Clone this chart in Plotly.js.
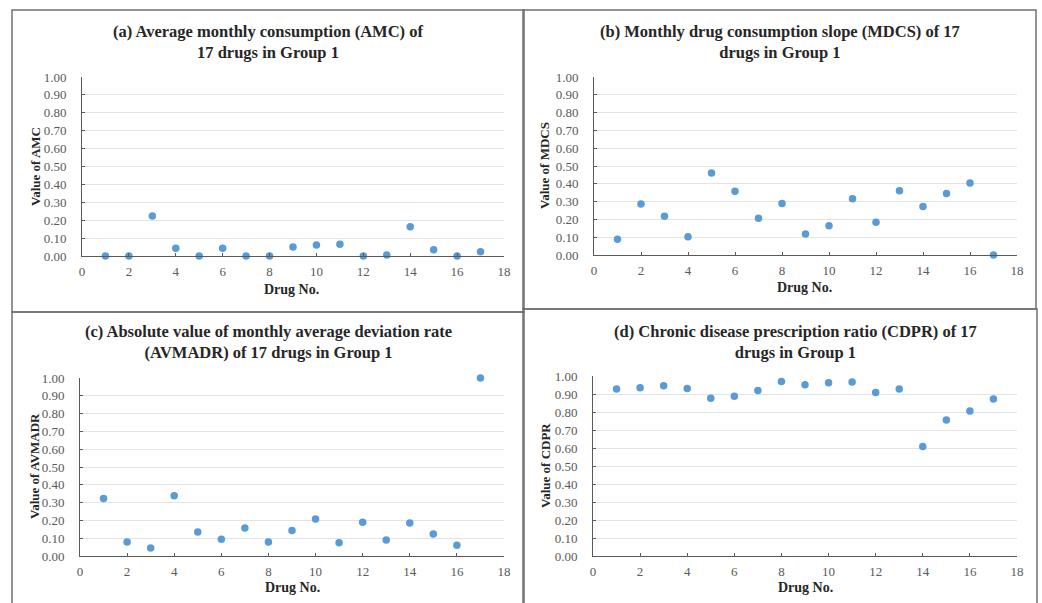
<!DOCTYPE html>
<html>
<head>
<meta charset="utf-8">
<script src="https://cdn.plot.ly/plotly-3.0.1.min.js"></script>
<style>html,body{margin:0;padding:0;background:#fff;}#chart{width:1042px;height:603px;}</style>
</head>
<body>
<div id="chart"></div>
<script>
// Data
const drugNo = [1,2,3,4,5,6,7,8,9,10,11,12,13,14,15,16,17];
const amc    = [0.00,0.00,0.223,0.043,0.00,0.043,0.00,0.00,0.050,0.061,0.065,0.00,0.006,0.164,0.035,0.00,0.024];
const mdcs   = [0.088,0.287,0.217,0.103,0.461,0.358,0.206,0.290,0.118,0.165,0.316,0.184,0.361,0.272,0.346,0.404,0.00];
const avmadr = [0.323,0.079,0.045,0.338,0.135,0.094,0.158,0.079,0.143,0.208,0.075,0.190,0.090,0.186,0.124,0.060,1.00];
const cdpr   = [0.928,0.935,0.946,0.931,0.876,0.887,0.920,0.970,0.952,0.963,0.967,0.909,0.928,0.609,0.755,0.805,0.872];

const panelTitles = [
  "(a) Average monthly consumption (AMC) of<br>17 drugs in Group 1",
  "(b) Monthly drug consumption slope (MDCS) of 17<br>drugs in Group 1",
  "(c) Absolute value of monthly average deviation rate<br>(AVMADR) of 17 drugs in Group 1",
  "(d) Chronic disease prescription ratio (CDPR) of 17<br>drugs in Group 1"
];
const yTitles = ["Value of AMC","Value of MDCS","Value of AVMADR","Value of CDPR"];
const xTitle = "Drug No.";
const series = [amc, mdcs, avmadr, cdpr];

const W = 1042, H = 603;
const px = x => x / W;
const py = y => (H - y) / H;

// plot area boxes in pixels: [left, right, top, bottom]
const boxes = [
  [82, 504, 77, 256],
  [594, 1017, 77, 255],
  [80, 504, 378, 556],
  [593, 1017, 376, 556]
];
const titlePos = [[268, 42], [780, 42], [268, 342], [795, 342]];
const xTitlePos = [[291, 289], [804, 287], [292, 587], [805, 587]];
const yTitlePos = [[36, 167], [545, 166], [34, 466], [545, 466]];
const frames = [[12, 524, 10, 312], [523, 1036, 10, 309], [12, 524, 312, 606], [523, 1037, 309, 606]];

const serif = '"Liberation Serif", "Times New Roman", serif';
const traces = [];
const layout = {
  width: W, height: H,
  margin: {l: 0, r: 0, t: 0, b: 0},
  paper_bgcolor: "#fff", plot_bgcolor: "#fff",
  showlegend: false,
  font: {family: serif, size: 12, color: "#595959"},
  annotations: [], shapes: []
};

series.forEach((vals, i) => {
  const n = i === 0 ? "" : String(i + 1);
  traces.push({
    x: drugNo, y: vals, type: "scatter", mode: "markers",
    xaxis: "x" + n, yaxis: "y" + n, cliponaxis: false,
    marker: {color: "#5B9BD5", size: 7.5},
    hoverinfo: "x+y"
  });
  const b = boxes[i];
  layout["xaxis" + n] = {
    domain: [px(b[0]), px(b[1])], anchor: "y" + n,
    range: [0, 18], tickmode: "linear", tick0: 0, dtick: 2,
    showgrid: false, zeroline: false,
    showline: true, linecolor: "#595959", linewidth: 1,
    ticks: "inside", ticklen: 3, tickcolor: "#595959",
    ticklabelstandoff: 3,
    tickfont: {family: serif, size: 13, color: "#595959"}, fixedrange: true
  };
  layout["yaxis" + n] = {
    domain: [py(b[3]), py(b[2])], anchor: "x" + n,
    range: [0, 1], tickmode: "linear", tick0: 0, dtick: 0.1, tickformat: ".2f",
    showgrid: true, gridcolor: "#e3e3e3", gridwidth: 1, zeroline: false,
    showline: true, linecolor: "#595959", linewidth: 1,
    ticks: "inside", ticklen: 3, tickcolor: "#595959",
    ticklabelstandoff: 12,
    tickfont: {family: serif, size: 13, color: "#595959"}, fixedrange: true
  };
  layout.annotations.push({
    xref: "paper", yref: "paper", x: px(titlePos[i][0]), y: py(titlePos[i][1]),
    xanchor: "center", yanchor: "middle", showarrow: false,
    text: "<b>" + panelTitles[i] + "</b>",
    font: {family: serif, size: 16.5, color: "#262626"}
  });
  layout.annotations.push({
    xref: "paper", yref: "paper", x: px(xTitlePos[i][0]), y: py(xTitlePos[i][1]),
    xanchor: "center", yanchor: "middle", showarrow: false,
    text: "<b>" + xTitle + "</b>",
    font: {family: serif, size: 14, color: "#262626"}
  });
  layout.annotations.push({
    xref: "paper", yref: "paper", x: px(yTitlePos[i][0]), y: py(yTitlePos[i][1]),
    xanchor: "center", yanchor: "middle", showarrow: false, textangle: -90,
    text: "<b>" + yTitles[i] + "</b>",
    font: {family: serif, size: 13, color: "#262626"}
  });
  const f = frames[i];
  layout.shapes.push({
    type: "rect", xref: "paper", yref: "paper",
    x0: px(f[0]), x1: px(f[1]), y0: py(f[3]), y1: py(f[2]),
    line: {color: "#707070", width: 1.5}, fillcolor: "rgba(0,0,0,0)", layer: "below"
  });
});

Plotly.newPlot("chart", traces, layout, {displayModeBar: false, staticPlot: true});
</script>
</body>
</html>
